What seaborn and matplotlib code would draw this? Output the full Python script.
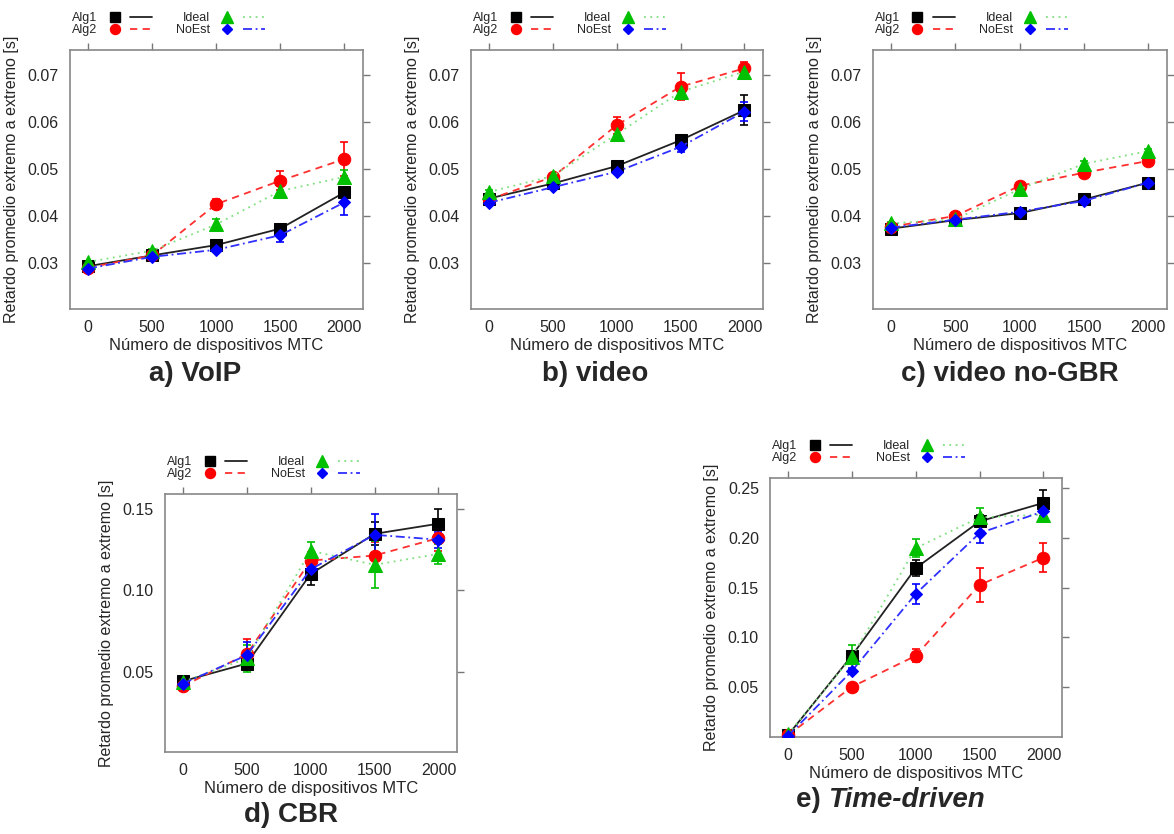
import numpy as np
import pandas as pd
import seaborn as sns
import matplotlib.pyplot as plt
from matplotlib.lines import Line2D
from matplotlib.legend_handler import HandlerTuple
from matplotlib.ticker import FormatStrFormatter

sns.set_style("white")
plt.rcParams['font.family'] = ['Liberation Sans', 'DejaVu Sans']

n_mtc = [0, 500, 1000, 1500, 2000]
algs = ["Alg1", "Alg2", "Ideal", "NoEst"]

# valores medios por panel (a..e) y algoritmo
voip = {
    "Alg1": [0.0293, 0.0316, 0.0338, 0.0373, 0.0450],
    "Alg2": [0.0290, 0.0316, 0.0425, 0.0475, 0.0521],
    "Ideal": [0.0302, 0.0326, 0.0382, 0.0453, 0.0483],
    "NoEst": [0.0288, 0.0313, 0.0328, 0.0359, 0.0429],
}
voip_err = {
    "Alg1": [0.0003, 0.0003, 0.0004, 0.0008, 0.0006],
    "Alg2": [0.0003, 0.0003, 0.0010, 0.0020, 0.0037],
    "Ideal": [0.0003, 0.0003, 0.0012, 0.0010, 0.0015],
    "NoEst": [0.0003, 0.0003, 0.0005, 0.0014, 0.0026],
}
video = {
    "Alg1": [0.0437, 0.0469, 0.0506, 0.0561, 0.0625],
    "Alg2": [0.0435, 0.0483, 0.0593, 0.0675, 0.0714],
    "Ideal": [0.0451, 0.0485, 0.0574, 0.0664, 0.0707],
    "NoEst": [0.0428, 0.0461, 0.0494, 0.0547, 0.0622],
}
video_err = {
    "Alg1": [0.0004, 0.0004, 0.0006, 0.0005, 0.0032],
    "Alg2": [0.0004, 0.0005, 0.0018, 0.0029, 0.0014],
    "Ideal": [0.0004, 0.0004, 0.0012, 0.0010, 0.0006],
    "NoEst": [0.0004, 0.0004, 0.0005, 0.0010, 0.0020],
}
nogbr = {
    "Alg1": [0.0373, 0.0391, 0.0406, 0.0435, 0.0471],
    "Alg2": [0.0377, 0.0400, 0.0464, 0.0492, 0.0517],
    "Ideal": [0.0384, 0.0393, 0.0457, 0.0511, 0.0538],
    "NoEst": [0.0375, 0.0392, 0.0409, 0.0432, 0.0471],
}
nogbr_err = {
    "Alg1": [0.0003, 0.0003, 0.0003, 0.0006, 0.0004],
    "Alg2": [0.0003, 0.0003, 0.0005, 0.0008, 0.0008],
    "Ideal": [0.0003, 0.0003, 0.0010, 0.0005, 0.0004],
    "NoEst": [0.0003, 0.0003, 0.0004, 0.0008, 0.0004],
}
cbr = {
    "Alg1": [0.0443, 0.0551, 0.1100, 0.1346, 0.1408],
    "Alg2": [0.0412, 0.0609, 0.1182, 0.1213, 0.1320],
    "Ideal": [0.0439, 0.0582, 0.1242, 0.1156, 0.1223],
    "NoEst": [0.0428, 0.0602, 0.1129, 0.1340, 0.1310],
}
cbr_err = {
    "Alg1": [0.0015, 0.0030, 0.0070, 0.0070, 0.0090],
    "Alg2": [0.0015, 0.0090, 0.0050, 0.0080, 0.0080],
    "Ideal": [0.0015, 0.0080, 0.0055, 0.0145, 0.0060],
    "NoEst": [0.0015, 0.0080, 0.0060, 0.0128, 0.0050],
}
tdriven = {
    "Alg1": [0.0017, 0.0815, 0.1695, 0.2164, 0.2350],
    "Alg2": [0.0017, 0.0503, 0.0815, 0.1527, 0.1800],
    "Ideal": [0.0027, 0.0805, 0.1896, 0.2205, 0.2232],
    "NoEst": [0.0010, 0.0661, 0.1436, 0.2047, 0.2265],
}
tdriven_err = {
    "Alg1": [0.0010, 0.0030, 0.0080, 0.0060, 0.0130],
    "Alg2": [0.0010, 0.0020, 0.0067, 0.0170, 0.0146],
    "Ideal": [0.0010, 0.0120, 0.0090, 0.0090, 0.0040],
    "NoEst": [0.0010, 0.0030, 0.0096, 0.0100, 0.0060],
}

mk_color = {"Alg1": "black", "Alg2": "#ff0000", "Ideal": "#00c000", "NoEst": "#0000ff"}
ln_color = {"Alg1": "#222222", "Alg2": "#ff3030", "Ideal": "#7ee07e", "NoEst": "#3030ff"}
markers = {"Alg1": "s", "Alg2": "o", "Ideal": "^", "NoEst": "D"}
msize = {"Alg1": 9, "Alg2": 9, "Ideal": 10, "NoEst": 6.5}
lstyle = {"Alg1": "-", "Alg2": (0, (4, 3)), "Ideal": (0, (1, 2.5)), "NoEst": (0, (5, 2, 1, 2))}

W, H = 1174, 834
fig = plt.figure(figsize=(W / 100, H / 100), dpi=100)


def box(l, r, t, b):
    return [l / W, 1 - b / H, (r - l) / W, (b - t) / H]


def panel(rect, means, errs, ylim, yticks):
    ax = fig.add_axes(rect)
    for a in algs:
        df = pd.DataFrame({"n": n_mtc, "retardo": means[a]})
        ax.errorbar(n_mtc, means[a], yerr=errs[a], fmt="none", ecolor=mk_color[a],
                    elinewidth=1.2, capsize=3, capthick=1.2, zorder=2)
        sns.lineplot(data=df, x="n", y="retardo", ax=ax, color=ln_color[a],
                     linestyle=lstyle[a], linewidth=1.3, marker=markers[a],
                     markersize=msize[a], markerfacecolor=mk_color[a],
                     markeredgecolor=mk_color[a], legend=False, zorder=3)
    ax.set_xlim(-140, 2145)
    ax.set_ylim(*ylim)
    ax.set_xticks(n_mtc)
    ax.set_yticks(yticks)
    ax.yaxis.set_major_formatter(FormatStrFormatter("%.2f"))
    ax.tick_params(direction="out", top=True, right=True, labeltop=False,
                   labelright=False, length=5, width=1, color="#777777",
                   labelsize=11.5, pad=3)
    for s in ax.spines.values():
        s.set_color("#888888")
        s.set_linewidth(1.2)
    ax.set_xlabel("Número de dispositivos MTC", fontsize=12, labelpad=2)
    ax.set_ylabel("Retardo promedio extremo a extremo [s]", fontsize=11.5, labelpad=6)

    handles = []
    for a in algs:
        m = Line2D([], [], linestyle="none", marker=markers[a], color=mk_color[a],
                   markersize=msize[a] * 0.8)
        l = Line2D([], [], linestyle=lstyle[a], color=ln_color[a], linewidth=1.3)
        handles.append((m, l))
    ax.legend(handles, algs, ncol=2, loc="lower left", bbox_to_anchor=(-0.01, 1.035),
              markerfirst=False, frameon=False, fontsize=9, labelspacing=0.0,
              handlelength=3.9, handletextpad=0.5, columnspacing=1.9,
              borderaxespad=0, handler_map={tuple: HandlerTuple(ndivide=None, pad=0.4)})
    return ax


y_top = (0.0202, 0.0753)
y_top_ticks = [0.03, 0.04, 0.05, 0.06, 0.07]
panel(box(70, 363, 50, 309), voip, voip_err, y_top, y_top_ticks)
panel(box(471, 763, 50, 309), video, video_err, y_top, y_top_ticks)
panel(box(873, 1167, 50, 309), nogbr, nogbr_err, y_top, y_top_ticks)
panel(box(165, 457, 494, 752), cbr, cbr_err, (0.0009, 0.159), [0.05, 0.10, 0.15])
panel(box(770, 1062, 478, 737), tdriven, tdriven_err, (0.0, 0.26),
      [0.05, 0.10, 0.15, 0.20, 0.25])

tkw = dict(fontsize=20, fontweight="bold", va="center")
fig.text(195 / W, 1 - 374 / H, "a) VoIP", ha="center", **tkw)
fig.text(595 / W, 1 - 374 / H, "b) video", ha="center", **tkw)
fig.text(1010 / W, 1 - 374 / H, "c) video no-GBR", ha="center", **tkw)
fig.text(291 / W, 1 - 815 / H, "d) CBR", ha="center", **tkw)
t1 = fig.text(796 / W, 1 - 800 / H, "e) ", ha="left", **tkw)
fig.add_artist(plt.Annotation("Time-driven", xy=(1, 0), xycoords=t1, va="bottom",
                              ha="left", fontsize=20, fontweight="bold", style="italic"))

fig.savefig("out.png", dpi=100)
